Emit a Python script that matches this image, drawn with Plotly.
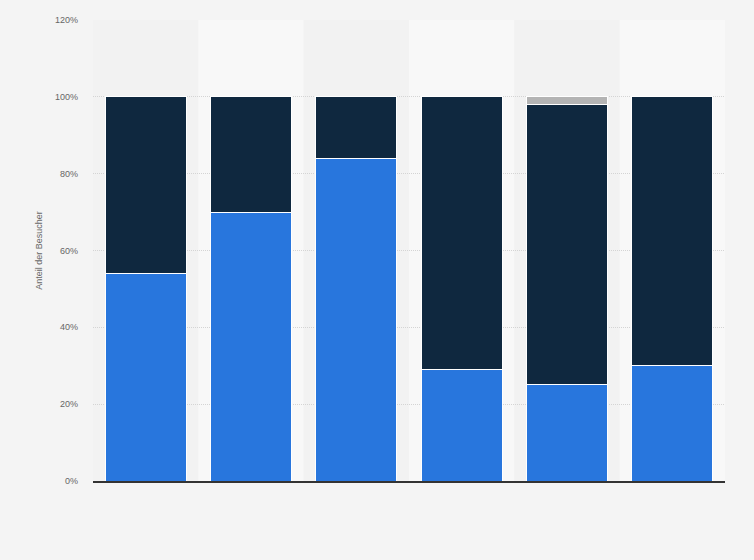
import plotly.graph_objects as go

# six groups, no category labels are shown on the chart
categories = ["1", "2", "3", "4", "5", "6"]
share_blue = [54, 70, 84, 29, 25, 30]
share_dark = [46, 30, 16, 71, 73, 70]
share_gray = [0, 0, 0, 0, 2, 0]

y_ticks = [0, 20, 40, 60, 80, 100, 120]
y_tick_labels = ["0%", "20%", "40%", "60%", "80%", "100%", "120%"]

fig = go.Figure()

series = [
    (share_blue, "#2876dd"),
    (share_dark, "#0f283f"),
    (share_gray, "#b4b4b4"),
]
for values, color in series:
    fig.add_trace(
        go.Bar(
            x=categories,
            y=values,
            marker=dict(color=color, line=dict(color="#ffffff", width=1)),
            width=0.77,
            hovertemplate="%{y}%<extra></extra>",
        )
    )

# alternating column bands behind the bars
band_colors = ["#f2f2f2", "#f8f8f8"]
for i, cat in enumerate(categories):
    fig.add_shape(
        type="rect",
        xref="x",
        yref="paper",
        x0=i - 0.5,
        x1=i + 0.5,
        y0=0,
        y1=1,
        fillcolor=band_colors[i % 2],
        line_width=0,
        layer="below",
    )

fig.update_layout(
    barmode="stack",
    width=754,
    height=560,
    margin=dict(l=93, r=29, t=20, b=79),
    paper_bgcolor="#f4f4f4",
    plot_bgcolor="#f4f4f4",
    showlegend=False,
    font=dict(family="Liberation Sans, Arial, sans-serif", color="#666666", size=9),
)

fig.update_xaxes(
    showticklabels=False,
    showgrid=False,
    zeroline=False,
    showline=True,
    linecolor="#333333",
    linewidth=1.5,
    range=[-0.5, 5.5],
)

fig.update_yaxes(
    range=[0, 120],
    tickvals=y_ticks,
    ticktext=y_tick_labels,
    showgrid=True,
    gridcolor="#d4d4d4",
    griddash="1px,1px",
    gridwidth=1,
    zeroline=False,
    ticks="",
    ticklabelstandoff=14,
    title=dict(text="Anteil der Besucher", font=dict(size=9, color="#666666"), standoff=10),
)

# drop the default page margin so the figure fills the window
fig.write_html(
    "out.html",
    config={"displayModeBar": False},
    post_script="document.body.style.margin='0';document.body.style.overflow='hidden';",
)
